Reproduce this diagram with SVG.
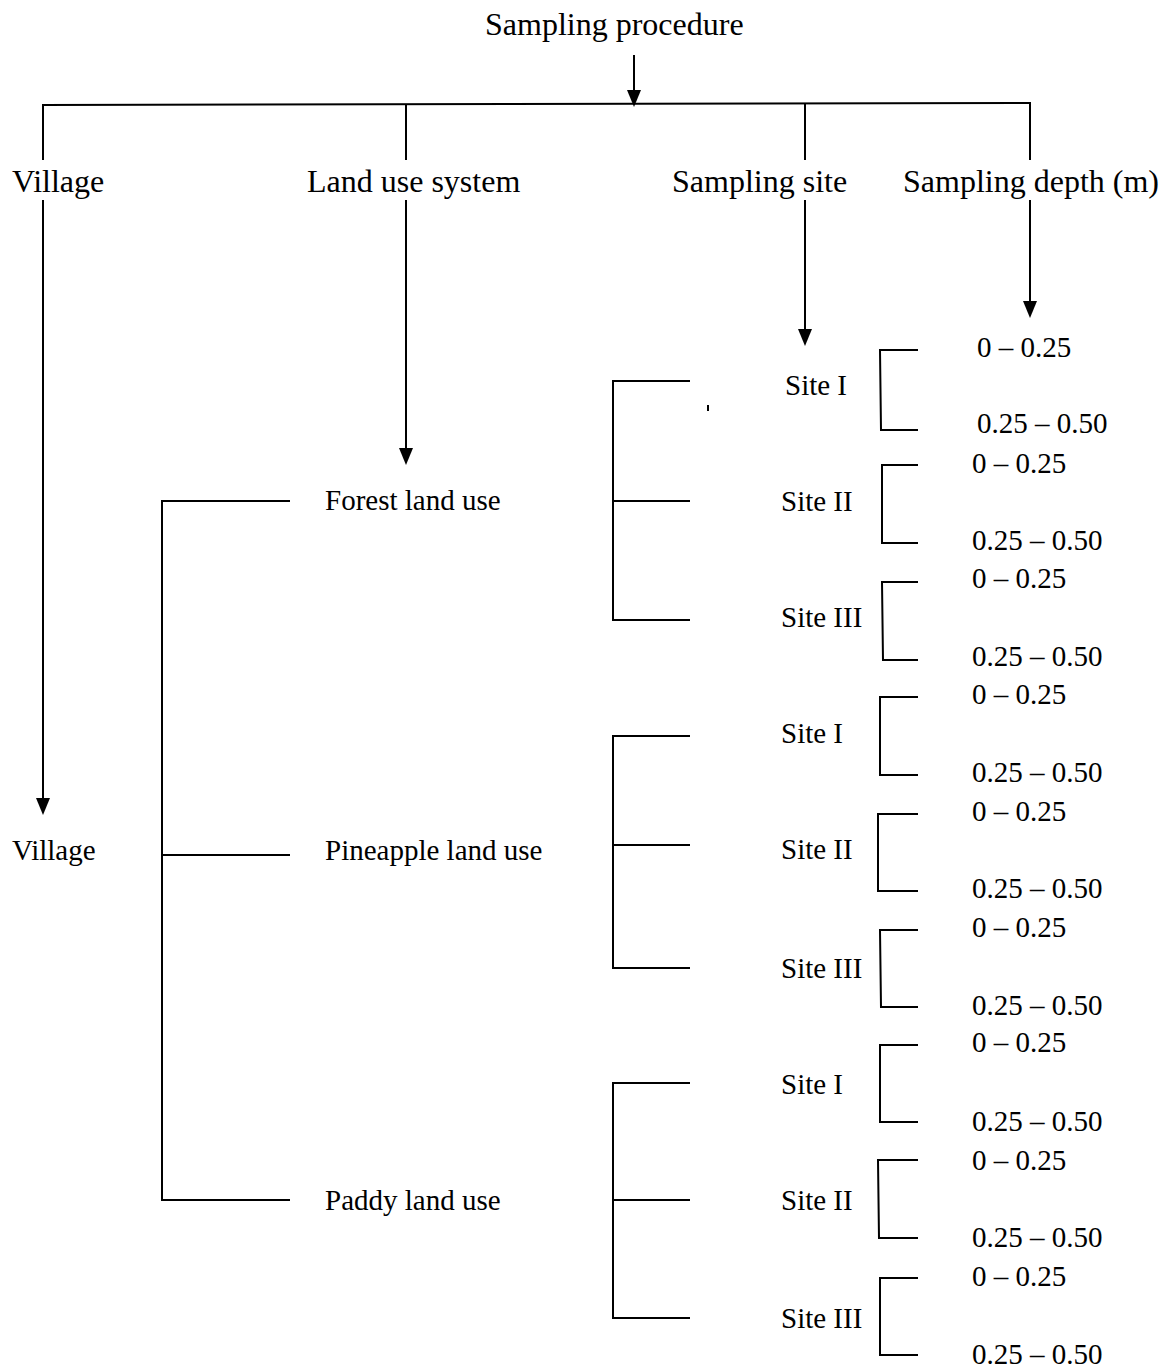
<svg xmlns="http://www.w3.org/2000/svg" width="1165" height="1369" viewBox="0 0 1165 1369">
<style>
text{font-family:"Liberation Serif","Times New Roman",serif;fill:#000}
.h{font-size:32px}
.t{font-size:29px}
line,polyline{stroke:#000;stroke-width:2;fill:none}
.ah{fill:#000}
</style>
<g id="connectors">
<line x1="634" y1="55" x2="634" y2="93"/><polygon class="ah" points="627,90 641,90 634,107"/>
<line x1="42" y1="105" x2="1031" y2="103"/>
<line x1="43" y1="105" x2="43" y2="160"/>
<line x1="406" y1="104" x2="406" y2="160"/>
<line x1="805" y1="103" x2="805" y2="160"/>
<line x1="1030" y1="103" x2="1030" y2="160"/>
<line x1="43" y1="200" x2="43" y2="802"/><polygon class="ah" points="36,798 50,798 43,815"/>
<line x1="406" y1="200" x2="406" y2="452"/><polygon class="ah" points="399,448 413,448 406,465"/>
<line x1="805" y1="200" x2="805" y2="333"/><polygon class="ah" points="798,329 812,329 805,346"/>
<line x1="1030" y1="200" x2="1030" y2="305"/><polygon class="ah" points="1023,301 1037,301 1030,318"/>
<line x1="708" y1="405" x2="708" y2="411" stroke-width="1.5"/>
<polyline points="290,501 162,501 162,1200 290,1200"/>
<line x1="162" y1="855" x2="290" y2="855"/>
<polyline points="690,381 613,381 613,620 690,620"/>
<line x1="613" y1="501" x2="690" y2="501"/>
<polyline points="690,736 613,736 613,968 690,968"/>
<line x1="613" y1="845" x2="690" y2="845"/>
<polyline points="690,1083 613,1083 613,1318 690,1318"/>
<line x1="613" y1="1200" x2="690" y2="1200"/>
<polyline points="918,350 880,350 881,430 918,430"/>
<polyline points="918,465 882,465 882,543 918,543"/>
<polyline points="918,582 882,582 883,660 918,660"/>
<polyline points="918,697 880,697 880,775 918,775"/>
<polyline points="918,814 878,814 878,891 918,891"/>
<polyline points="918,930 880,930 881,1007 918,1007"/>
<polyline points="918,1045 880,1045 880,1122 918,1122"/>
<polyline points="918,1160 878,1160 879,1238 918,1238"/>
<polyline points="918,1278 880,1278 880,1355 918,1355"/>
</g>
<g id="n-root"><text class="h" x="485" y="35">Sampling procedure</text></g>
<g id="n-village-h"><text class="h" x="12" y="192">Village</text></g>
<g id="n-landuse-h"><text class="h" x="307" y="192">Land use system</text></g>
<g id="n-site-h"><text class="h" x="672" y="192">Sampling site</text></g>
<g id="n-depth-h"><text class="h" x="903" y="192">Sampling depth (m)</text></g>
<g id="n-village"><text class="t" x="12" y="860">Village</text></g>
<g id="n-forest"><text class="t" x="325" y="510">Forest land use</text></g>
<g id="n-pineapple"><text class="t" x="325" y="860">Pineapple land use</text></g>
<g id="n-paddy"><text class="t" x="325" y="1210">Paddy land use</text></g>
<g id="n-sites">
<text class="t" x="785" y="395">Site I</text>
<text class="t" x="781" y="511">Site II</text>
<text class="t" x="781" y="627">Site III</text>
<text class="t" x="781" y="743">Site I</text>
<text class="t" x="781" y="859">Site II</text>
<text class="t" x="781" y="978">Site III</text>
<text class="t" x="781" y="1094">Site I</text>
<text class="t" x="781" y="1210">Site II</text>
<text class="t" x="781" y="1328">Site III</text>
</g>
<g id="n-depths">
<text class="t" x="977" y="357">0 – 0.25</text><text class="t" x="977" y="433">0.25 – 0.50</text>
<text class="t" x="972" y="473">0 – 0.25</text><text class="t" x="972" y="550">0.25 – 0.50</text>
<text class="t" x="972" y="588">0 – 0.25</text><text class="t" x="972" y="666">0.25 – 0.50</text>
<text class="t" x="972" y="704">0 – 0.25</text><text class="t" x="972" y="782">0.25 – 0.50</text>
<text class="t" x="972" y="821">0 – 0.25</text><text class="t" x="972" y="898">0.25 – 0.50</text>
<text class="t" x="972" y="937">0 – 0.25</text><text class="t" x="972" y="1015">0.25 – 0.50</text>
<text class="t" x="972" y="1052">0 – 0.25</text><text class="t" x="972" y="1131">0.25 – 0.50</text>
<text class="t" x="972" y="1170">0 – 0.25</text><text class="t" x="972" y="1247">0.25 – 0.50</text>
<text class="t" x="972" y="1286">0 – 0.25</text><text class="t" x="972" y="1364">0.25 – 0.50</text>
</g>
</svg>
